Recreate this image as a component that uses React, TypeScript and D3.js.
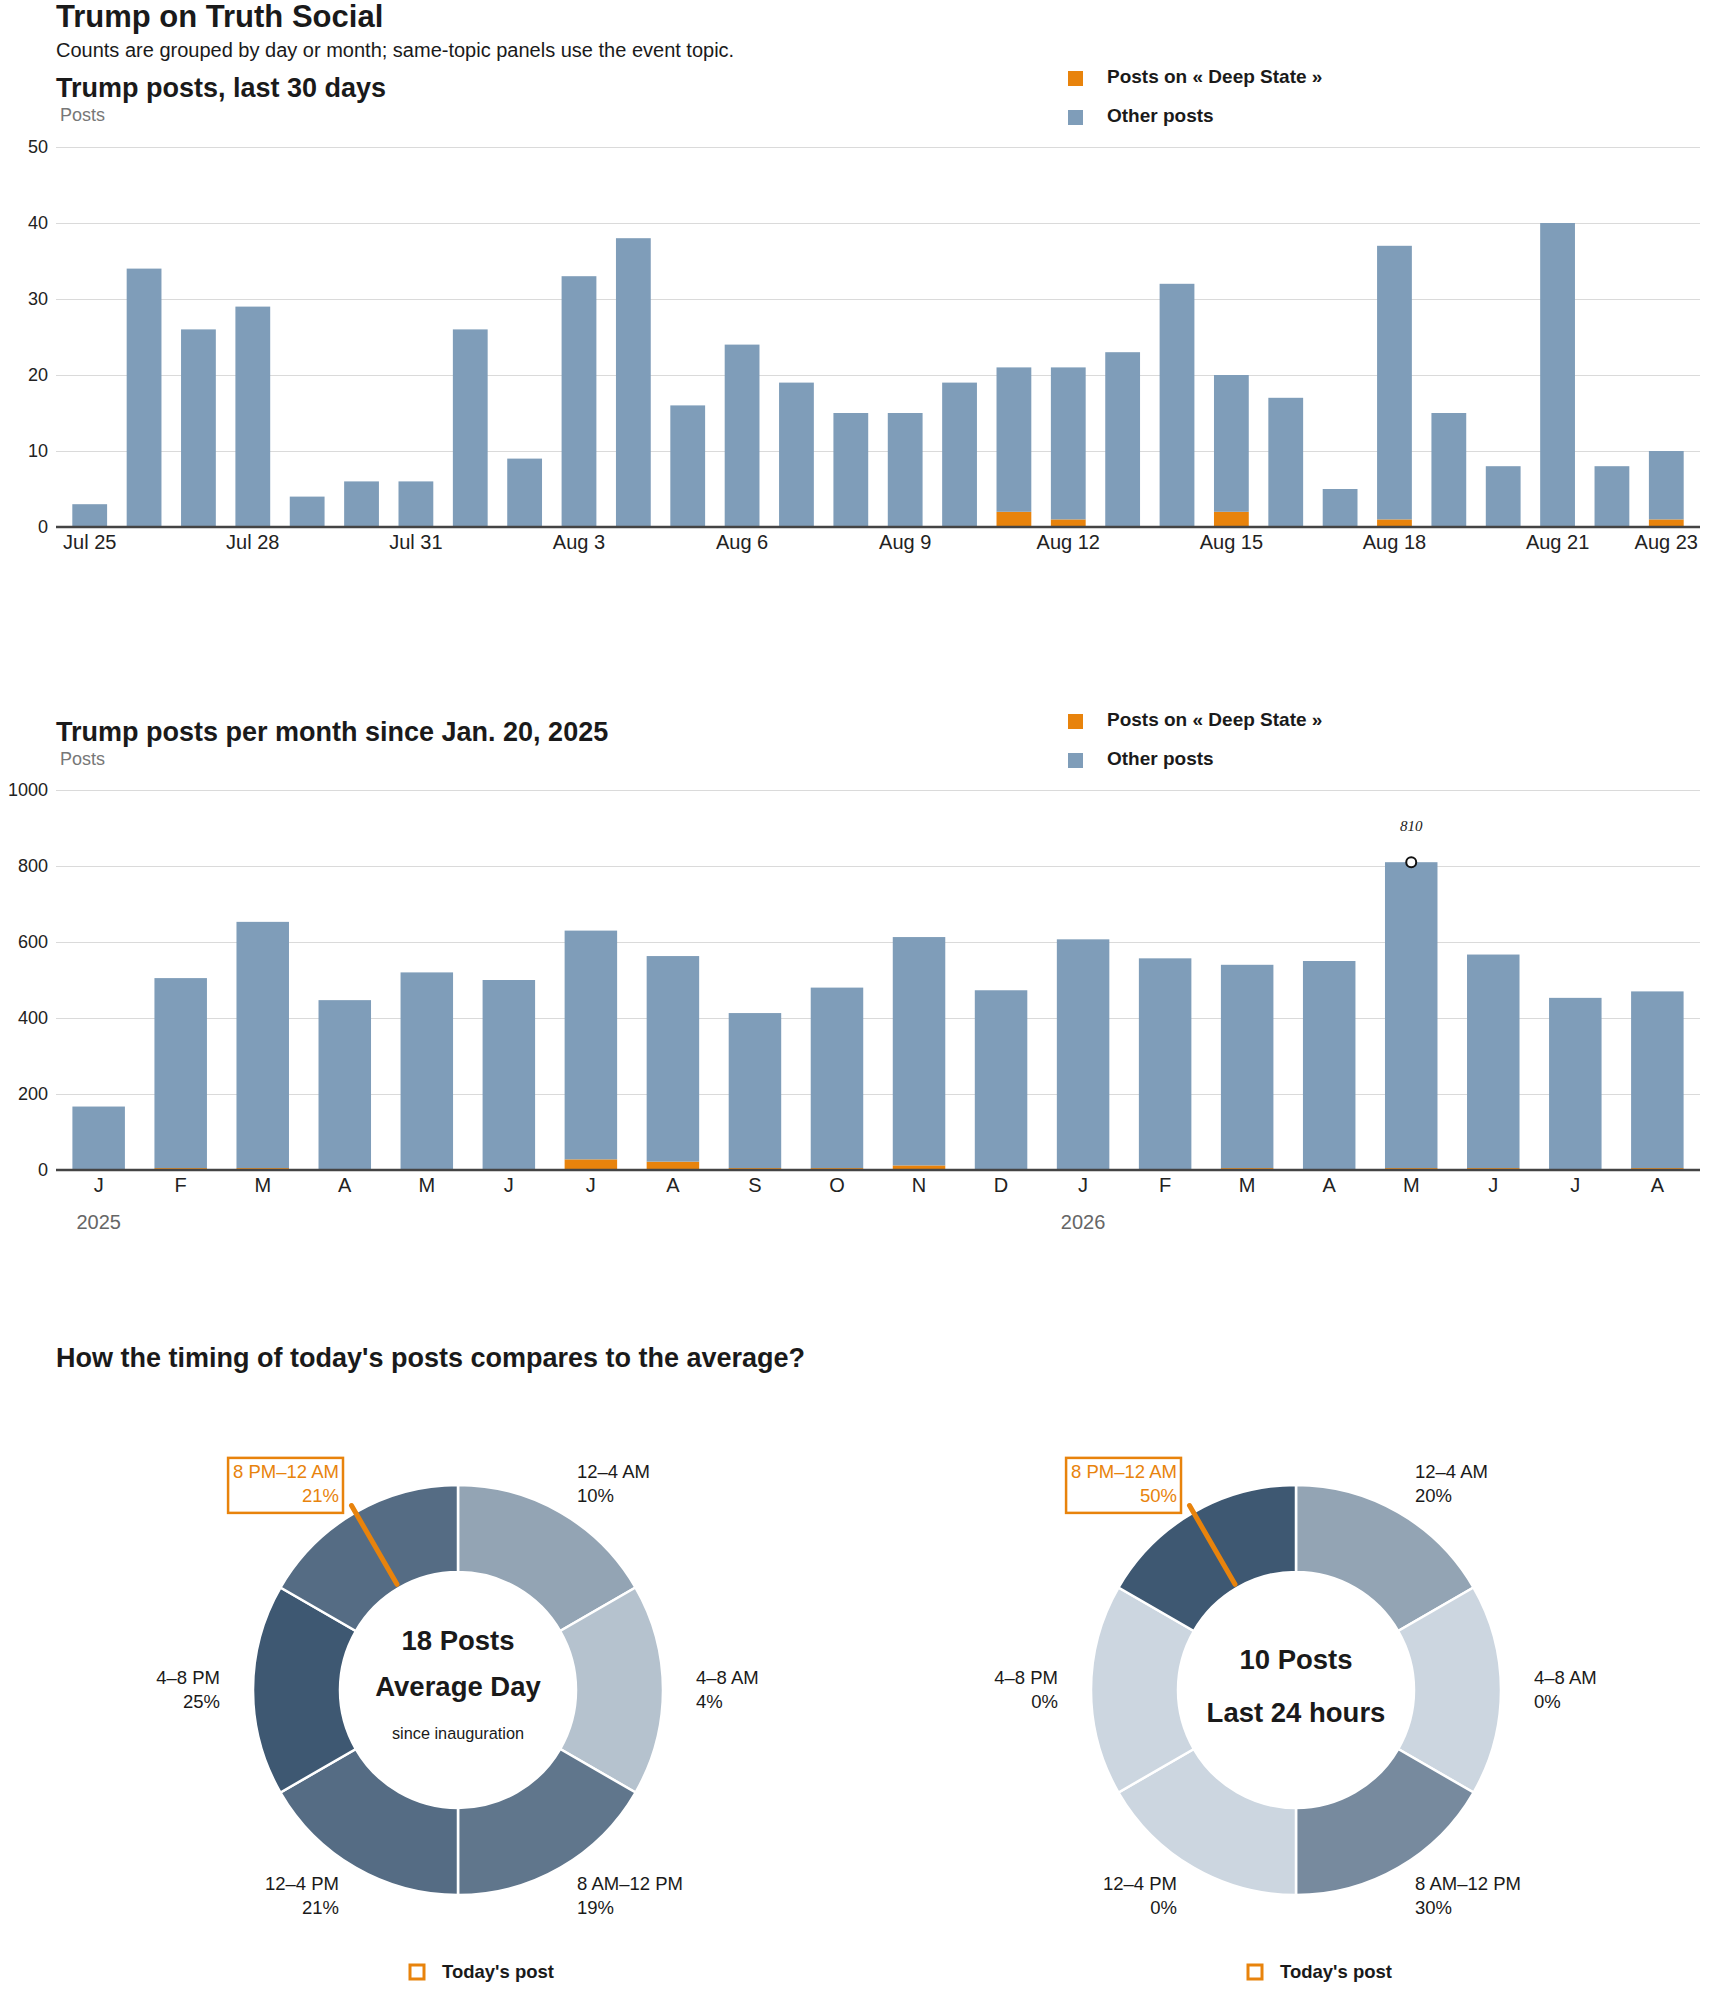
import React, {useEffect, useRef} from "react";
import * as d3 from "d3";

// ---- data ----
const dayLabels = [
    "Jul 25", "Jul 26", "Jul 27", "Jul 28", "Jul 29", "Jul 30", "Jul 31",
    "Aug 1", "Aug 2", "Aug 3", "Aug 4", "Aug 5", "Aug 6", "Aug 7", "Aug 8", "Aug 9",
    "Aug 10", "Aug 11", "Aug 12", "Aug 13", "Aug 14", "Aug 15", "Aug 16", "Aug 17",
    "Aug 18", "Aug 19", "Aug 20", "Aug 21", "Aug 22", "Aug 23"
];
const dayTicks = ["Jul 25", "Jul 28", "Jul 31", "Aug 3", "Aug 6", "Aug 9", "Aug 12", "Aug 15", "Aug 18", "Aug 21", "Aug 23"];
const dailyTotal = [3, 34, 26, 29, 4, 6, 6, 26, 9, 33, 38, 16, 24, 19, 15, 15, 19, 21, 21, 23, 32, 20, 17, 5, 37, 15, 8, 40, 8, 10];
const dailyTopic = [0, 0, 0, 0, 0, 0, 0, 0, 0, 0, 0, 0, 0, 0, 0, 0, 0, 2, 1, 0, 0, 2, 0, 0, 1, 0, 0, 0, 0, 1];

const monthKeys = [
    "2025-01", "2025-02", "2025-03", "2025-04", "2025-05", "2025-06", "2025-07", "2025-08", "2025-09", "2025-10",
    "2025-11", "2025-12", "2026-01", "2026-02", "2026-03", "2026-04", "2026-05", "2026-06", "2026-07", "2026-08"
];
const monthLetters = ["J", "F", "M", "A", "M", "J", "J", "A", "S", "O", "N", "D", "J", "F", "M", "A", "M", "J", "J", "A"];
const monthTotal = [167, 505, 653, 447, 520, 500, 630, 563, 413, 480, 613, 473, 607, 557, 540, 550, 810, 567, 453, 470];
const monthTopic = [0, 5, 5, 0, 0, 0, 28, 22, 5, 5, 12, 0, 0, 0, 5, 0, 5, 5, 0, 5];
const yearMarks = [{key: "2025-01", label: "2025"}, {key: "2026-01", label: "2026"}];
const peakKey = "2026-05";

const timeSlots = ["12–4 AM", "4–8 AM", "8 AM–12 PM", "12–4 PM", "4–8 PM", "8 PM–12 AM"];
const averageShare = [10, 4, 19, 21, 25, 21];
const last24Share = [20, 0, 30, 0, 0, 50];
const todayPostHour = 22;

const FONT = "'Liberation Sans', Arial, Helvetica, sans-serif";
const ORANGE = "#e8830c";
const BLUE = "#7f9db9";
const INK = "#1a1a1a";

const W = 1710, H = 1993;
const LEFT = 56, RIGHT = 1700;

function legend(svg: any, x: number, y: number) {
    const items = [{label: "Posts on « Deep State »", color: ORANGE}, {label: "Other posts", color: BLUE}];
    items.forEach((it, i) => {
        svg.append("rect")
            .attr("x", x).attr("y", y + i * 39)
            .attr("width", 15).attr("height", 15)
            .attr("fill", it.color);
        svg.append("text")
            .attr("x", x + 39).attr("y", y + i * 39 + 12)
            .attr("font-size", 19).attr("font-weight", "bold").attr("fill", INK)
            .text(it.label);
    });
}

function stackedBars(svg: any, cfg: any) {
    const {labels, total, topic, top, bottom, max, step, pIn, pOut, ticks} = cfg;
    const x = d3.scaleBand().domain(labels).range([LEFT, RIGHT]).paddingInner(pIn).paddingOuter(pOut);
    const y = d3.scaleLinear().domain([0, max]).range([bottom, top]);

    const yAxis = svg.append("g")
        .attr("transform", `translate(${LEFT},0)`)
        .call(d3.axisLeft(y).tickValues(d3.range(0, max + 1, step)).tickFormat(d3.format("d"))
            .tickSize(-(RIGHT - LEFT)).tickPadding(8));
    yAxis.select(".domain").remove();
    yAxis.selectAll("line").attr("stroke", "#dadada");
    yAxis.selectAll("text").attr("font-size", 18).attr("font-family", FONT).attr("fill", "#222");

    const rows = labels.map((l: string, i: number) => ({key: l, topic: topic[i], other: total[i] - topic[i]}));
    const series = d3.stack().keys(["topic", "other"])(rows as any);
    const colors: any = {topic: ORANGE, other: BLUE};
    svg.append("g").selectAll("g")
        .data(series)
        .enter().append("g")
        .attr("fill", (s: any) => colors[s.key])
        .selectAll("rect")
        .data((s: any) => s)
        .enter().append("rect")
        .attr("x", (d: any) => x(d.data.key))
        .attr("y", (d: any) => y(d[1]))
        .attr("width", x.bandwidth())
        .attr("height", (d: any) => y(d[0]) - y(d[1]));

    const xAxis = svg.append("g")
        .attr("class", "x-axis")
        .attr("transform", `translate(0,${bottom})`)
        .call(d3.axisBottom(x).tickValues(ticks || labels).tickSize(0).tickPadding(8));
    xAxis.select(".domain").remove();
    xAxis.selectAll("text").attr("font-size", 20).attr("font-family", FONT).attr("fill", "#222");

    svg.append("line")
        .attr("x1", LEFT).attr("x2", RIGHT)
        .attr("y1", bottom).attr("y2", bottom)
        .attr("stroke", "#444").attr("stroke-width", 2.5);
    return {x, y, xAxis};
}

function donut(svg: any, cx: number, cy: number, shares: number[], lines: string[], sub: string | null) {
    const g = svg.append("g").attr("transform", `translate(${cx},${cy})`);
    const rIn = 118, rOut = 205, rLab = 238;
    const color = d3.scaleLinear<string>().domain([0, d3.max(shares) as number]).range(["#ccd6e0", "#3e5872"]);
    const pie = d3.pie<number>().value(() => 1).sort(null);
    const arcs = pie(shares);
    const arc = d3.arc<any>().innerRadius(rIn).outerRadius(rOut);
    const hot = Math.floor(todayPostHour / 4);

    g.selectAll("path.slice")
        .data(arcs)
        .enter().append("path")
        .attr("class", "slice")
        .attr("d", arc)
        .attr("fill", (d: any) => color(d.data))
        .attr("stroke", "#fff").attr("stroke-width", 2.5);

    arcs.forEach((a: any, i: number) => {
        const mid = (a.startAngle + a.endAngle) / 2;
        const px = rLab * Math.sin(mid), py = -rLab * Math.cos(mid);
        const anchor = Math.sin(mid) > 0 ? "start" : "end";
        const fill = i === hot ? ORANGE : INK;
        const t = g.append("text")
            .attr("text-anchor", anchor).attr("font-size", 18.5).attr("fill", fill);
        t.append("tspan").attr("x", px).attr("y", py - 6).text(timeSlots[i]);
        t.append("tspan").attr("x", px).attr("y", py + 18).text(`${shares[i]}%`);
        if (i === hot) {
            const bb = (t.node() as SVGTextElement).getBBox();
            g.append("rect")
                .attr("x", bb.x - 5).attr("y", bb.y - 3)
                .attr("width", bb.width + 9).attr("height", bb.height + 10)
                .attr("fill", "none").attr("stroke", ORANGE).attr("stroke-width", 2.5);
        }
    });

    const ang = todayPostHour / 24 * 2 * Math.PI;
    g.append("line")
        .attr("x1", 122 * Math.sin(ang)).attr("y1", -122 * Math.cos(ang))
        .attr("x2", 213 * Math.sin(ang)).attr("y2", -213 * Math.cos(ang))
        .attr("stroke", ORANGE).attr("stroke-width", 5).attr("stroke-linecap", "round");

    const ys = sub ? [-50, -4] : [-31, 22];
    lines.forEach((l, i) => {
        g.append("text").attr("x", 0).attr("y", ys[i]).attr("dy", "0.35em")
            .attr("text-anchor", "middle").attr("font-size", 27.5).attr("font-weight", "bold").attr("fill", INK)
            .text(l);
    });
    if (sub) {
        g.append("text").attr("x", 0).attr("y", 43).attr("dy", "0.35em")
            .attr("text-anchor", "middle").attr("font-size", 16.3).attr("fill", INK).text(sub);
    }

    g.append("rect").attr("x", -48).attr("y", 275).attr("width", 14).attr("height", 14)
        .attr("fill", "none").attr("stroke", ORANGE).attr("stroke-width", 3);
    g.append("text").attr("x", -16).attr("y", 288)
        .attr("font-size", 18.5).attr("font-weight", "bold").attr("fill", INK).text("Today's post");
}

const App: React.FC = () => {
    const divRef = useRef<HTMLDivElement | null>(null);

    useEffect(() => {
        if (!divRef.current) return;
        const div = d3.select(divRef.current);
        div.selectAll("*").remove();

        const svg = div.append("svg")
            .attr("width", W).attr("height", H)
            .attr("font-family", FONT)
            .style("display", "block");
        svg.append("rect").attr("width", W).attr("height", H).attr("fill", "#fff");

        // header
        svg.append("text").attr("x", LEFT).attr("y", 27)
            .attr("font-size", 31).attr("font-weight", "bold").attr("fill", INK)
            .text("Trump on Truth Social");
        svg.append("text").attr("x", LEFT).attr("y", 57)
            .attr("font-size", 20).attr("fill", INK)
            .text("Counts are grouped by day or month; same-topic panels use the event topic.");

        // daily panel
        svg.append("text").attr("x", LEFT).attr("y", 97)
            .attr("font-size", 27).attr("font-weight", "bold").attr("fill", INK)
            .text("Trump posts, last 30 days");
        svg.append("text").attr("x", 60).attr("y", 121)
            .attr("font-size", 18).attr("fill", "#777").text("Posts");
        legend(svg, 1068, 71);
        stackedBars(svg, {
            labels: dayLabels, total: dailyTotal, topic: dailyTopic,
            top: 147, bottom: 527, max: 50, step: 10, pIn: 0.36, pOut: 0.3, ticks: dayTicks
        });

        // monthly panel
        svg.append("text").attr("x", LEFT).attr("y", 741)
            .attr("font-size", 27).attr("font-weight", "bold").attr("fill", INK)
            .text("Trump posts per month since Jan. 20, 2025");
        svg.append("text").attr("x", 60).attr("y", 765)
            .attr("font-size", 18).attr("fill", "#777").text("Posts");
        legend(svg, 1068, 714);
        const {x: mx, y: my, xAxis: mAxis} = stackedBars(svg, {
            labels: monthKeys, total: monthTotal, topic: monthTopic,
            top: 790, bottom: 1170, max: 1000, step: 200, pIn: 0.36, pOut: 0.2
        });
        mAxis.selectAll(".tick text")
            .text((d: any) => monthLetters[monthKeys.indexOf(d)]);
        yearMarks.forEach(ym => {
            svg.append("text")
                .attr("x", (mx(ym.key) as number) + mx.bandwidth() / 2).attr("y", 1229)
                .attr("text-anchor", "middle").attr("font-size", 20).attr("fill", "#666")
                .text(ym.label);
        });
        const pi = monthKeys.indexOf(peakKey);
        const px = (mx(peakKey) as number) + mx.bandwidth() / 2;
        svg.append("circle").attr("cx", px).attr("cy", my(monthTotal[pi]))
            .attr("r", 5).attr("fill", "#fff").attr("stroke", "#111").attr("stroke-width", 2);
        svg.append("text").attr("x", px).attr("y", my(monthTotal[pi]) - 31)
            .attr("text-anchor", "middle").attr("font-size", 15).attr("font-style", "italic")
            .attr("font-family", "'Liberation Serif', Georgia, serif").attr("fill", INK)
            .text(String(monthTotal[pi]));

        // timing panel
        svg.append("text").attr("x", LEFT).attr("y", 1367)
            .attr("font-size", 27).attr("font-weight", "bold").attr("fill", INK)
            .text("How the timing of today's posts compares to the average?");
        donut(svg, 458, 1690, averageShare, ["18 Posts", "Average Day"], "since inauguration");
        donut(svg, 1296, 1690, last24Share, ["10 Posts", "Last 24 hours"], null);
    }, []);

    return <div ref={divRef} style={{position: "absolute", left: 0, top: 0}}/>;
};

export default App;
